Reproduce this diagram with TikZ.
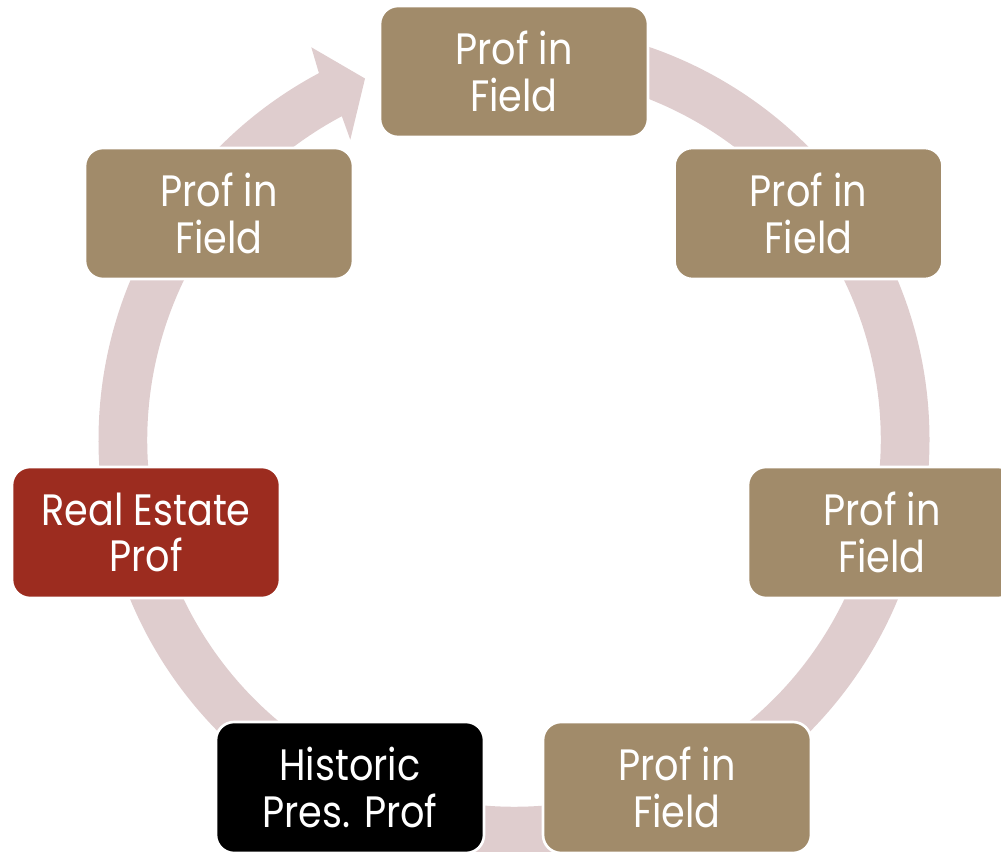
\documentclass[tikz,border=0pt]{standalone}
\usepackage{fontspec}
\setmainfont{Poppins}[FakeStretch=0.87]
\usetikzlibrary{calc}
\definecolor{tan}{RGB}{161,139,106}
\definecolor{brick}{RGB}{156,44,31}
\definecolor{ringc}{RGB}{223,205,206}
\tikzset{
  box/.style={rectangle, rounded corners=0.36cm, minimum width=5.36cm, minimum height=2.62cm,
    draw=white, line width=1.5pt, text=white, align=center, inner sep=0pt,
    font=\fontsize{25}{26.6}\selectfont},
  tanbox/.style={box, fill=tan},
}
\begin{document}
\begin{tikzpicture}[x=0.02cm, y=0.02cm]
\useasboundingbox (0,0) rectangle (1001,852);
\clip (0,0) rectangle (1001,852);
\coordinate (C) at (514,412);
% ring with arrow head
\fill[ringc] ($(C)+(88:415.5)$) arc[start angle=88, end angle=-242, radius=415.5]
  -- ($(C)+(117.3:442)$) -- ($(C)+(112.4:391)$) -- ($(C)+(118.6:342)$)
  -- ($(C)+(118:366.7)$) arc[start angle=-242, end angle=88, radius=366.7] -- cycle;
% boxes
\node[tanbox] (top) at (514,780.5) {Prof in\\Field};
\node[tanbox] (tr) at (808.5,638.5) {Prof in\\Field};
\node[tanbox] (r) at (882,319.5) {Prof in\\Field};
\node[tanbox] (br) at (677,64.5) {Prof in\\Field};
\node[box, fill=black] (bl) at (350,64.5) {Historic\\Pres. Prof};
\node[box, fill=brick] (l) at (146,319.5) {Real Estate\\Prof};
\node[tanbox] (tl) at (219,638.5) {Prof in\\Field};
\end{tikzpicture}
\end{document}
